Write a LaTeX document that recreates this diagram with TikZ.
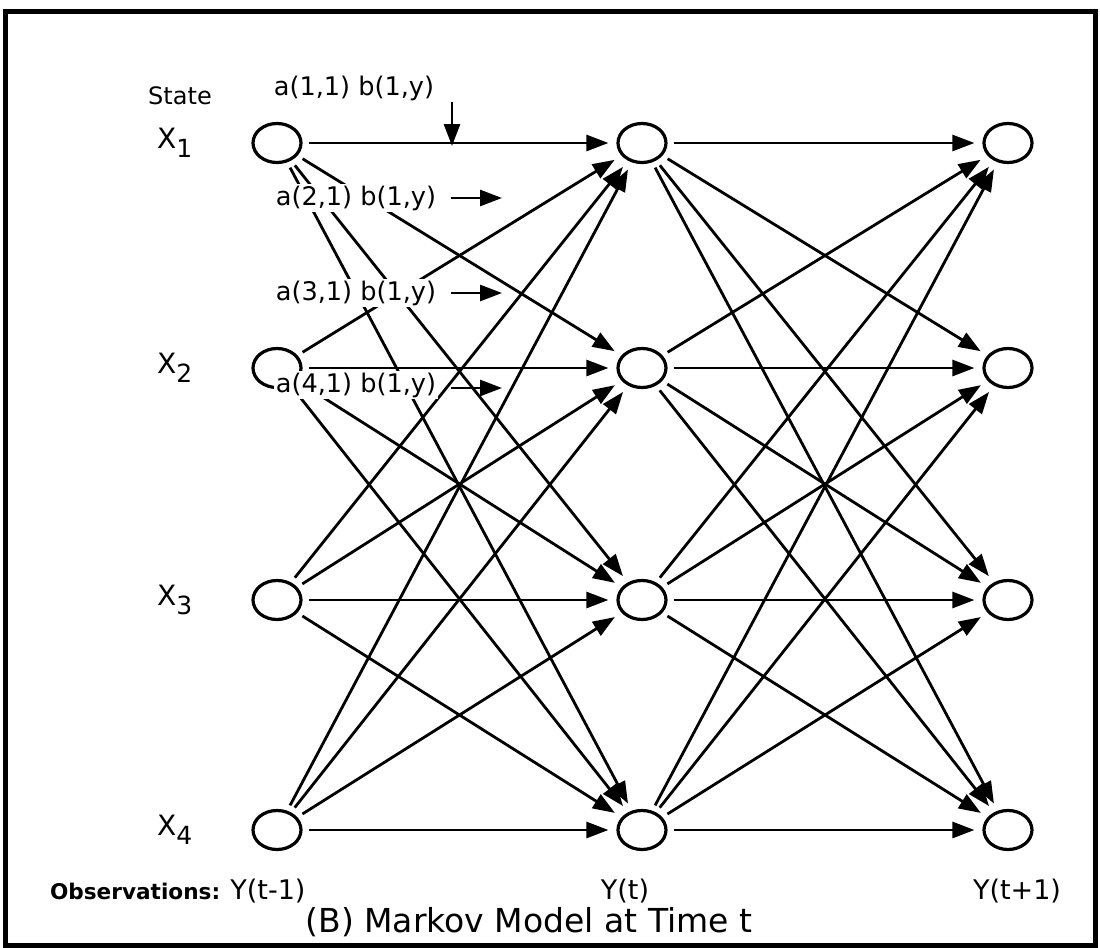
\documentclass[tikz,border=0pt]{standalone}
\usepackage{fontspec}
\setmainfont{DejaVu Sans}
\usetikzlibrary{arrows.meta,positioning,shapes.geometric}
\newcommand{\statesub}[1]{\raisebox{-4.5pt}{\fontsize{12.5}{14}\selectfont #1}}
\tikzset{state/.style={ellipse,draw,line width=1.6pt,minimum width=24pt,minimum height=19.5pt,inner sep=0pt},flow/.style={-{Triangle[length=11pt,width=8pt]},line width=1.4pt,shorten <=3pt,shorten >=4pt},pointer/.style={-{Triangle[length=11pt,width=8pt]},line width=1.4pt},weight/.style={fill=white,inner sep=1pt,font=\fontsize{12.8}{14}\selectfont},txt/.style={font=\fontsize{13.5}{15}\selectfont}}
\begin{document}
\begin{tikzpicture}[x=0.5pt,y=-0.5pt]
      \useasboundingbox (0,0) rectangle (1100,948);
      \draw[line width=2.5pt] (5.5,11.5) rectangle (1095.5,945);
      % states at t-1, t, t+1
      \foreach \i/\y in {1/143,2/368,3/600,4/830}{
        \node[state](l\i) at (277,\y) {};
        \node[state](m\i) at (642,\y) {};
        \node[state](r\i) at (1008,\y) {};
        \node[txt,font=\fontsize{14}{16}\selectfont,left=26pt of l\i](x\i){X\statesub{\i}};
      }
      \foreach \i in {1,...,4}{\foreach \j in {1,...,4}{\draw[flow](l\i)--(m\j);\draw[flow](m\i)--(r\j);}}
      \node[txt,font=\fontsize{12}{14}\selectfont](st) at (180,96) {State};
      % transition and output weights
      \node[weight](w1) at (354,88) {a(1,1) b(1,y)};
      \node[weight](w2) at (356,198) {a(2,1) b(1,y)};
      \node[weight](w3) at (356,293) {a(3,1) b(1,y)};
      \node[weight](w4) at (356,385) {a(4,1) b(1,y)};
      \coordinate (d1) at (452,102);\coordinate (d2) at (452,146);
      \draw[pointer](d1)--(d2);
      \foreach \k/\y in {2/198,3/293,4/388}{
        \coordinate (t\k) at (451,\y);\coordinate (h\k) at (502,\y);
        \draw[pointer](t\k)--(h\k);
      }
      % observations
      \node[txt,font=\fontsize{10.8}{12}\bfseries\selectfont,anchor=west](obs) at (43,891) {Observations:};
      \node[txt](o1) at (268,891) {Y(t-1)};
      \node[txt](o2) at (625,891) {Y(t)};
      \node[txt](o3) at (1017,891) {Y(t+1)};
      \node[font=\fontsize{16.5}{19}\selectfont](title) at (529,922) {(B) Markov Model at Time t};
    \end{tikzpicture}
\end{document}
